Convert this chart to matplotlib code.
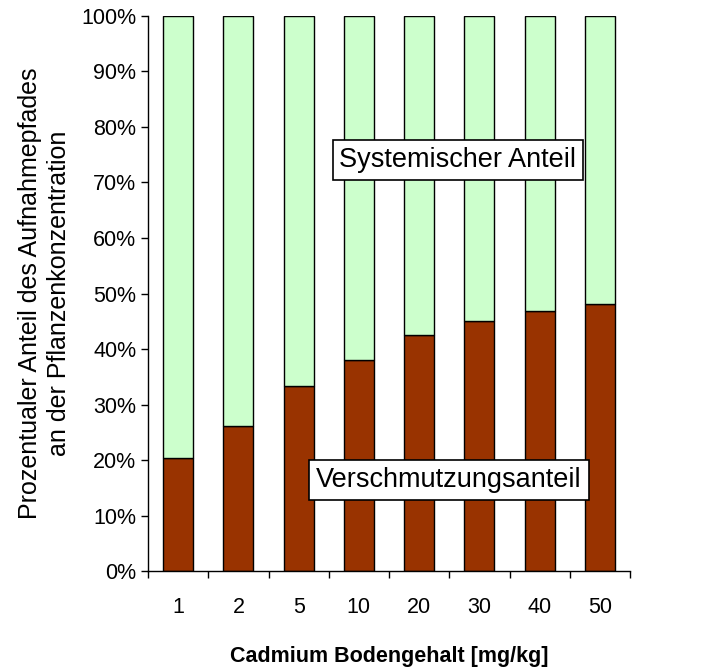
import matplotlib
matplotlib.use("Agg")
import matplotlib.pyplot as plt
import numpy as np

categories = ["1", "2", "5", "10", "20", "30", "40", "50"]
verschmutzung = [20.4, 26.2, 33.4, 38.0, 42.5, 45.0, 46.9, 48.2]
systemisch = [100 - v for v in verschmutzung]
yticks = [0, 10, 20, 30, 40, 50, 60, 70, 80, 90, 100]

plt.rcParams['font.family'] = ['Liberation Sans', 'DejaVu Sans']

fig = plt.figure(figsize=(7.09, 6.69), dpi=100)
ax = fig.add_axes([148/709, 1 - 571.3/669, (630 - 148)/709, (571.3 - 15.7)/669])

x = np.arange(len(categories))
ax.bar(x, verschmutzung, width=0.5, color="#993300", edgecolor="black", linewidth=1.0)
ax.bar(x, systemisch, width=0.5, bottom=verschmutzung, color="#CCFFCC", edgecolor="black", linewidth=1.0)

ax.set_xlim(-0.5, len(categories) - 0.5)
ax.set_ylim(0, 100)
ax.set_yticks(yticks)
ax.set_yticklabels([f"{t}%" for t in yticks], fontsize=15.5)
ax.set_xticks(x)
ax.set_xticklabels(categories, fontsize=15.5)
ax.set_xticks(np.arange(len(categories) + 1) - 0.5, minor=True)
ax.tick_params(axis='x', which='major', length=0, pad=18.5)
ax.tick_params(axis='x', which='minor', length=5, direction='out', width=1)
ax.tick_params(axis='y', length=5, direction='out', width=1, pad=3.5)

for s in ['top', 'right']:
    ax.spines[s].set_visible(False)
for s in ['left', 'bottom']:
    ax.spines[s].set_linewidth(1)

ax.set_xlabel("Cadmium Bodengehalt [mg/kg]", fontsize=15.5, fontweight='bold', labelpad=20)
ax.set_ylabel("Prozentualer Anteil des Aufnahmepfades\nan der Pflanzenkonzentration", fontsize=18,
              labelpad=7, linespacing=1.3)

box = dict(boxstyle="square,pad=0.25", facecolor="white", edgecolor="black", linewidth=1.2)
ax.text(0.643, 74.0, "Systemischer Anteil", transform=ax.get_yaxis_transform(),
        ha='center', va='center', fontsize=19.5, bbox=box)
ax.text(0.6245, 16.4, "Verschmutzungsanteil", transform=ax.get_yaxis_transform(),
        ha='center', va='center', fontsize=19.5, bbox=box)

fig.savefig("out.png", dpi=100)
